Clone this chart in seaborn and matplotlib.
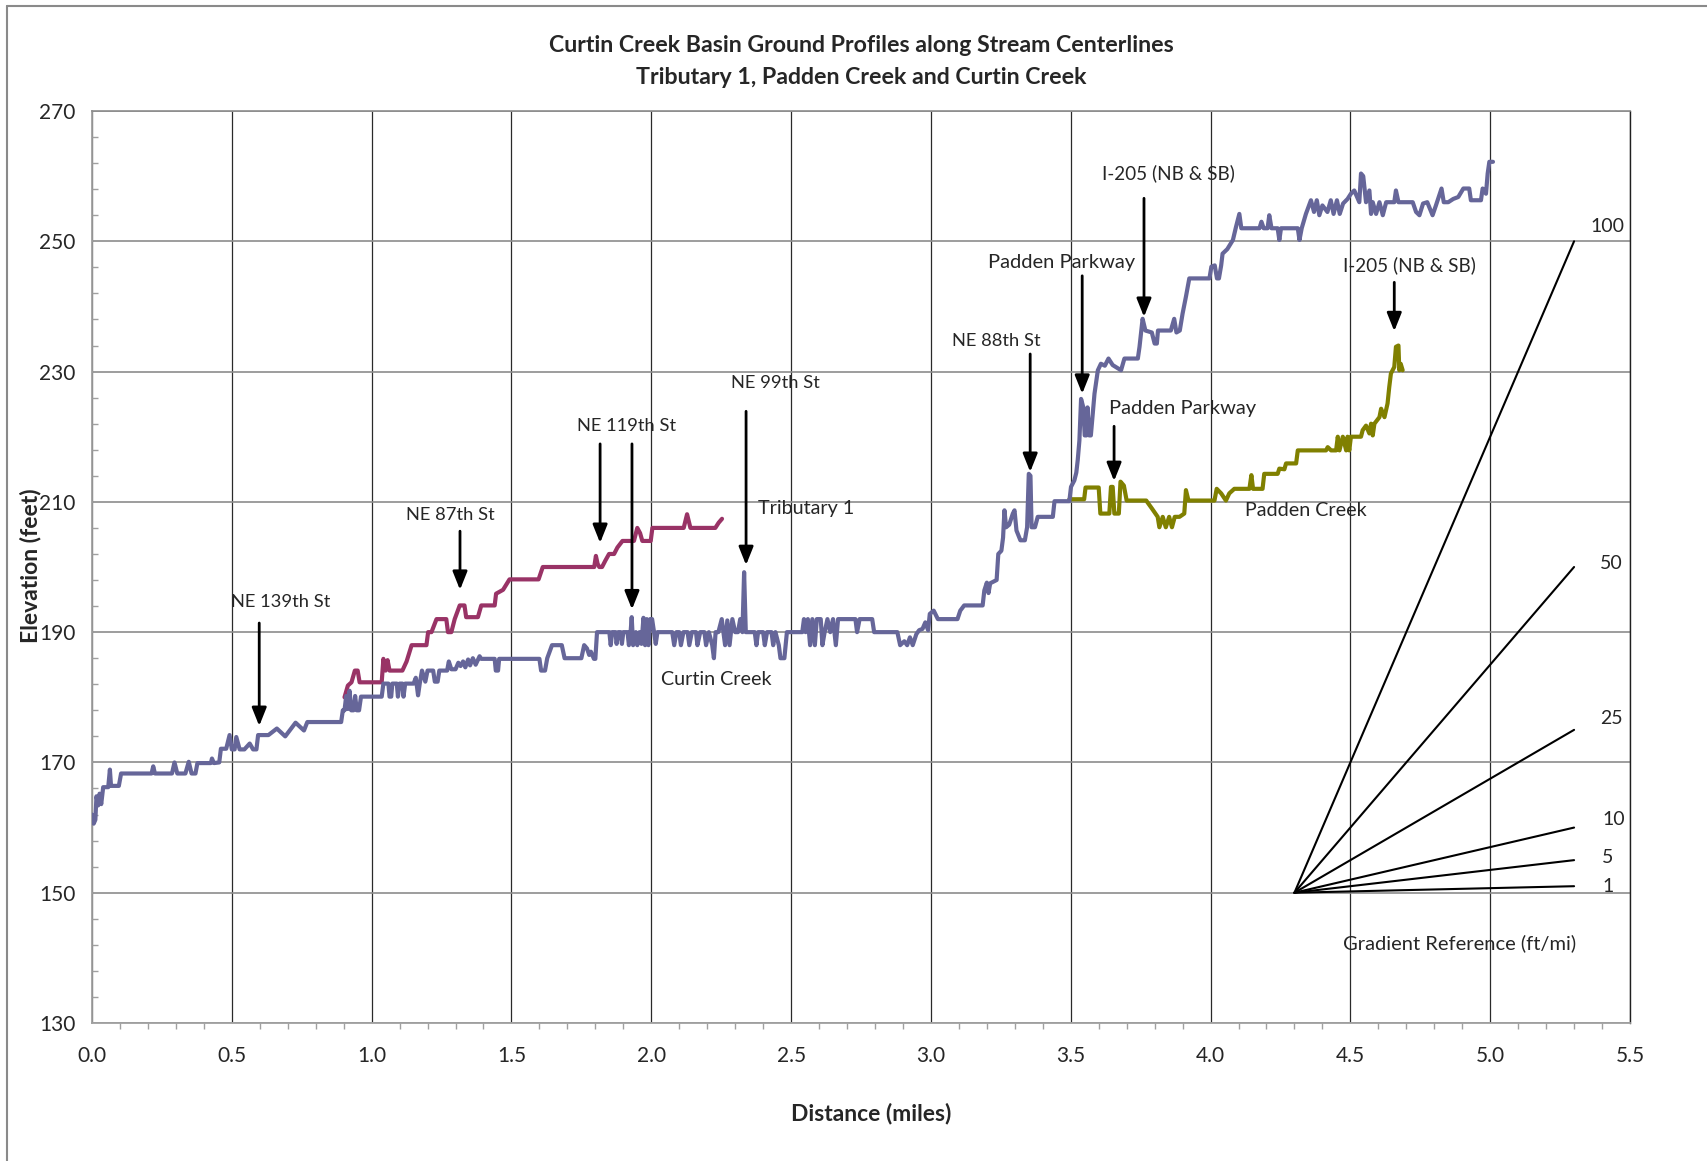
import matplotlib
matplotlib.use("Agg")
import matplotlib.pyplot as plt
from matplotlib.ticker import MultipleLocator, FixedLocator, FormatStrFormatter
from matplotlib.lines import Line2D
import seaborn as sns
import pandas as pd

# ---------------------------------------------------------------- data
curtin_x = [0.000, 0.006, 0.012, 0.016, 0.022, 0.027, 0.033, 0.040, 0.058, 0.064, 0.068, 0.096, 0.104,
            0.213, 0.219, 0.225, 0.286, 0.295, 0.305, 0.334, 0.346, 0.356, 0.370, 0.377, 0.425, 0.429,
            0.436, 0.455, 0.461, 0.480, 0.492, 0.500, 0.510, 0.516, 0.528, 0.545, 0.564, 0.576, 0.588,
            0.594, 0.631, 0.661, 0.691, 0.728, 0.758, 0.770, 0.891,
            0.897, 0.903, 0.909, 0.915, 0.921, 0.927, 0.935, 0.941, 0.947, 0.955, 0.962, 1.036,
            1.042, 1.060, 1.064, 1.070, 1.074, 1.090, 1.094, 1.100, 1.110, 1.114, 1.120, 1.150, 1.158,
            1.166, 1.172, 1.180, 1.192, 1.200, 1.220, 1.226, 1.236, 1.242, 1.254, 1.270, 1.276, 1.285,
            1.300, 1.310, 1.318, 1.327, 1.335, 1.345, 1.352, 1.362, 1.372, 1.386, 1.392, 1.440, 1.444,
            1.452, 1.456, 1.600, 1.606, 1.620, 1.628, 1.645, 1.680, 1.690, 1.750, 1.760, 1.770, 1.778,
            1.784, 1.795, 1.800, 1.806,
            1.812, 1.850, 1.855, 1.860, 1.872, 1.876, 1.882, 1.890, 1.895, 1.900, 1.915, 1.920, 1.926,
            1.930, 1.935, 1.945, 1.950, 1.958, 1.965, 1.972, 1.978, 1.984, 1.990, 1.996, 2.003, 2.010,
            2.016, 2.022, 2.075, 2.082, 2.090, 2.100, 2.106, 2.115, 2.130, 2.136, 2.145, 2.160, 2.165,
            2.175, 2.190, 2.196, 2.206, 2.218, 2.224, 2.230, 2.240, 2.252, 2.258, 2.264, 2.272, 2.280,
            2.290, 2.300, 2.310, 2.318, 2.326, 2.332, 2.338, 2.370, 2.376, 2.382, 2.400, 2.406, 2.414,
            2.430, 2.436, 2.444, 2.456, 2.462, 2.476, 2.485, 2.540, 2.546, 2.552, 2.560, 2.568, 2.576,
            2.585, 2.592, 2.606, 2.612, 2.620, 2.630, 2.640, 2.650, 2.660, 2.668, 2.730, 2.736, 2.745,
            2.790, 2.797, 2.880, 2.890, 2.905, 2.915, 2.925, 2.935, 2.948, 2.958, 2.970, 2.980, 2.990,
            2.996, 3.010, 3.025, 3.054, 3.095, 3.105, 3.119, 3.185, 3.191,
            3.200, 3.206, 3.212, 3.235, 3.241, 3.252, 3.258, 3.263, 3.269, 3.280, 3.293, 3.299, 3.306,
            3.320, 3.336, 3.344, 3.350, 3.356, 3.360, 3.372, 3.382, 3.436, 3.442, 3.495, 3.501, 3.513,
            3.520, 3.525, 3.531, 3.537, 3.545, 3.550, 3.556, 3.560, 3.566, 3.572, 3.585, 3.597, 3.608,
            3.622, 3.635, 3.650, 3.680, 3.692, 3.740, 3.746, 3.757, 3.767, 3.790, 3.800, 3.808, 3.812,
            3.858, 3.870, 3.878, 3.890, 3.900, 3.912, 3.924, 3.996, 4.003, 4.015, 4.023, 4.030, 4.038,
            4.043, 4.060, 4.080, 4.091, 4.103, 4.110, 4.175, 4.182, 4.190, 4.204, 4.210, 4.218, 4.240,
            4.246, 4.252, 4.312, 4.318, 4.326, 4.341, 4.359, 4.370, 4.380, 4.389, 4.400, 4.418, 4.430,
            4.440, 4.452, 4.462, 4.474, 4.490, 4.502, 4.514, 4.532, 4.538, 4.546, 4.556, 4.568, 4.574,
            4.580, 4.592, 4.604, 4.616, 4.628, 4.657, 4.663, 4.672, 4.723, 4.735, 4.747, 4.760, 4.775,
            4.794, 4.806, 4.826, 4.834, 4.850, 4.868, 4.886, 4.904, 4.925, 4.931, 4.967, 4.973, 4.985,
            4.991, 4.997, 5.010]
curtin_y = [162.0, 160.6, 161.2, 164.8, 163.4, 165.2, 163.6, 166.2, 166.2, 168.9, 166.4, 166.4, 168.3,
            168.3, 169.4, 168.3, 168.3, 170.0, 168.3, 168.3, 170.1, 168.3, 168.3, 169.9, 169.9, 170.6,
            169.9, 170.0, 172.1, 172.1, 174.2, 172.0, 172.0, 173.9, 172.0, 172.0, 172.9, 172.0, 172.0,
            174.2, 174.2, 175.2, 174.0, 176.1, 174.9, 176.2, 176.2,
            178.0, 178.0, 180.2, 178.2, 181.0, 178.0, 178.0, 180.2, 178.0, 178.0, 180.1, 180.1,
            182.1, 182.1, 180.1, 180.1, 182.1, 182.1, 180.1, 182.1, 182.1, 180.1, 182.1, 182.1, 183.0,
            180.3, 182.1, 184.1, 182.4, 184.1, 184.1, 182.4, 182.4, 184.1, 184.1, 184.1, 185.5, 184.3,
            184.3, 185.3, 184.8, 185.5, 184.6, 185.8, 184.9, 186.0, 185.0, 186.3, 185.9, 185.9, 184.1,
            184.1, 185.9, 185.9, 184.1, 184.1, 186.0, 188.0, 188.0, 186.0, 186.0, 188.0, 187.5, 186.5,
            187.0, 185.9, 185.9, 190.0,
            190.0, 190.0, 188.0, 190.0, 190.0, 188.2, 190.0, 190.0, 188.2, 190.0, 190.0, 188.0, 190.0,
            192.3, 188.0, 190.0, 188.0, 190.0, 188.2, 192.2, 188.0, 192.0, 188.0, 192.0, 192.0, 190.0,
            188.2, 190.0, 190.0, 188.0, 190.0, 190.0, 188.0, 190.0, 190.0, 188.0, 190.0, 190.0, 188.0,
            190.0, 190.0, 188.0, 190.0, 188.0, 186.0, 190.0, 190.0, 192.0, 190.0, 188.0, 191.8, 188.0,
            192.0, 190.0, 190.0, 192.0, 190.0, 199.2, 190.0, 190.0, 188.0, 190.0, 190.0, 188.0, 190.0,
            190.0, 188.0, 190.0, 188.0, 186.0, 186.0, 190.0, 190.0, 192.0, 190.0, 192.0, 188.0, 192.0,
            188.0, 192.0, 192.0, 188.0, 190.0, 192.0, 190.0, 192.0, 188.0, 192.0, 192.0, 190.0, 192.0,
            192.0, 190.0, 190.0, 188.0, 188.6, 188.0, 189.2, 188.0, 189.7, 190.3, 190.5, 191.5, 190.3,
            192.8, 193.3, 192.0, 192.0, 192.0, 193.3, 194.1, 194.1, 196.4,
            197.6, 196.0, 197.5, 198.0, 202.0, 202.5, 204.5, 208.7, 206.1, 206.5, 208.2, 208.7, 205.6,
            204.1, 204.1, 206.1, 214.3, 214.0, 206.1, 206.1, 207.7, 207.7, 210.1, 210.1, 212.3, 213.3,
            214.5, 216.4, 219.4, 225.8, 224.5, 220.2, 220.2, 224.5, 220.2, 220.2, 226.6, 230.2, 231.2,
            230.9, 232.0, 231.0, 230.2, 232.0, 232.0, 233.8, 238.1, 236.3, 236.0, 234.3, 234.3, 236.3,
            236.3, 238.1, 236.0, 236.3, 238.9, 241.5, 244.3, 244.3, 246.1, 246.3, 244.3, 244.3, 246.3,
            248.1, 248.8, 250.2, 252.2, 254.2, 252.0, 252.0, 253.0, 252.0, 252.0, 254.0, 252.0, 252.0,
            250.2, 252.0, 252.0, 250.2, 252.0, 254.2, 256.3, 254.5, 256.3, 254.0, 255.5, 254.5, 256.3,
            254.2, 256.3, 254.2, 255.8, 256.5, 257.3, 257.8, 256.0, 260.4, 260.0, 256.0, 257.8, 254.2,
            256.0, 254.2, 256.0, 254.0, 256.0, 256.0, 257.8, 256.0, 256.0, 254.5, 254.0, 255.8, 256.0,
            254.0, 255.5, 258.1, 256.0, 256.0, 256.5, 256.8, 258.1, 258.1, 256.3, 256.3, 258.1, 257.3,
            260.4, 262.2, 262.2]

trib_x = [0.903, 0.915, 0.928, 0.940, 0.950, 0.957, 1.036, 1.042, 1.050, 1.057, 1.064, 1.110, 1.125,
          1.143, 1.196, 1.202, 1.214, 1.232, 1.267, 1.273, 1.285, 1.297, 1.315, 1.332, 1.338, 1.380,
          1.392, 1.440, 1.445, 1.470, 1.493, 1.597, 1.612, 1.796, 1.802, 1.808, 1.814, 1.824, 1.836,
          1.849, 1.867, 1.879, 1.897, 1.938, 1.944, 1.950, 1.960, 1.968, 1.998, 2.004, 2.116, 2.128,
          2.140, 2.229, 2.241, 2.253]
trib_y = [180.0, 181.8, 182.3, 184.1, 184.1, 182.3, 182.3, 185.9, 184.1, 185.7, 184.1, 184.1, 185.5,
          188.0, 188.0, 190.0, 190.0, 192.0, 192.0, 190.0, 190.0, 192.0, 194.1, 194.1, 192.3, 192.3,
          194.1, 194.1, 195.9, 196.5, 198.1, 198.1, 200.0, 200.0, 201.7, 200.5, 200.0, 200.0, 201.0,
          202.0, 202.0, 203.0, 204.0, 204.0, 205.0, 206.0, 205.2, 204.0, 204.0, 206.0, 206.0, 208.1,
          206.0, 206.0, 206.8, 207.4]

padden_x = [3.495, 3.548, 3.553, 3.600, 3.606, 3.638, 3.644, 3.650, 3.656, 3.672, 3.678, 3.690, 3.700,
            3.770, 3.790, 3.811, 3.817, 3.829, 3.840, 3.852, 3.862, 3.872, 3.889, 3.906, 3.912, 3.921,
            4.014, 4.022, 4.038, 4.055, 4.067, 4.085, 4.139, 4.146, 4.152, 4.186, 4.192, 4.240, 4.246,
            4.264, 4.270, 4.306, 4.312, 4.413, 4.419, 4.431, 4.449, 4.455, 4.461, 4.473, 4.485, 4.490,
            4.496, 4.502, 4.538, 4.544, 4.556, 4.568, 4.574, 4.580, 4.586, 4.604, 4.610, 4.622, 4.633,
            4.639, 4.645, 4.657, 4.663, 4.672, 4.675, 4.680, 4.687]
padden_y = [210.4, 210.4, 212.2, 212.2, 208.2, 208.2, 212.3, 212.3, 208.2, 208.2, 213.1, 212.5, 210.2,
            210.2, 209.0, 207.7, 206.1, 207.7, 206.1, 207.7, 206.1, 207.7, 207.7, 208.2, 211.8, 210.2,
            210.2, 212.0, 211.3, 210.2, 211.3, 212.0, 212.0, 214.1, 212.0, 212.0, 214.3, 214.3, 215.1,
            215.0, 215.9, 215.9, 217.9, 217.9, 218.4, 217.9, 217.9, 220.0, 217.9, 220.0, 217.9, 220.0,
            217.9, 220.0, 220.0, 221.0, 221.7, 220.5, 222.0, 220.2, 222.0, 223.0, 224.3, 223.0, 225.1,
            227.6, 229.7, 230.7, 233.8, 234.0, 230.2, 231.2, 230.2]

gradient_slopes = [100, 50, 25, 10, 5, 1]          # ft per mile
gradient_start = (4.3, 150.0)
gradient_end_x = 5.3

# landmark labels: (text, x, y)
landmark_labels = [
    ("NE 139th St", 0.676, 194.6),
    ("NE 87th St", 1.281, 208.0),
    ("NE 119th St", 1.910, 221.6),
    ("NE 99th St", 2.443, 228.2),
    ("NE 88th St", 3.233, 234.7),
    ("Padden Parkway", 3.469, 246.7),
    ("I-205 (NB & SB)", 3.848, 260.5),
    ("Padden Parkway", 3.901, 224.3),
    ("I-205 (NB & SB)", 4.710, 246.4),
]
# landmark arrows: (x, tail elevation, tip elevation)
landmark_arrows = [
    (0.598, 191.4, 175.6),
    (1.316, 205.5, 196.5),
    (1.817, 218.9, 203.7),
    (1.931, 218.9, 193.5),
    (2.339, 223.9, 200.3),
    (3.355, 232.7, 214.6),
    (3.541, 244.7, 226.6),
    (3.762, 256.6, 238.4),
    (3.655, 221.6, 213.2),
    (4.657, 243.7, 236.2),
]
stream_labels = [
    ("Tributary 1", 2.553, 209.0),
    ("Curtin Creek", 2.232, 182.8),
    ("Padden Creek", 4.339, 208.7),
]

# ---------------------------------------------------------------- style
sns.set_style("white")
plt.rcParams["font.family"] = ["Lato", "DejaVu Sans"]

label_size = {"NE": 13.2, "Padden Parkway": 14.5, "I-205 (NB & SB)": 13.6}

def text_size(txt):
    if txt.startswith("NE"):
        return label_size["NE"]
    return label_size.get(txt, 14.2)

W, H = 1707, 1161
fig = plt.figure(figsize=(W / 100, H / 100), dpi=100)
ax = fig.add_axes([92 / W, 1 - 1023 / H, (1630 - 92) / W, (1023 - 111) / H])

# ---------------------------------------------------------------- profiles
frames = []
for name, xs, ys in [("Tributary 1", trib_x, trib_y),
                     ("Padden Creek", padden_x, padden_y),
                     ("Curtin Creek", curtin_x, curtin_y)]:
    frames.append(pd.DataFrame({"stream": name, "distance": xs, "elevation": ys}))
profiles = pd.concat(frames, ignore_index=True)

palette = {"Curtin Creek": "#666699", "Tributary 1": "#993366", "Padden Creek": "#808000"}
sns.lineplot(data=profiles, x="distance", y="elevation", hue="stream",
             hue_order=["Tributary 1", "Padden Creek", "Curtin Creek"],
             palette=palette, sort=False, estimator=None, linewidth=3.0,
             legend=False, ax=ax, zorder=3)

# ---------------------------------------------------------------- gradient reference fan
grad_rows = []
for s in gradient_slopes:
    grad_rows.append({"slope": s, "distance": gradient_start[0], "elevation": gradient_start[1]})
    grad_rows.append({"slope": s, "distance": gradient_end_x,
                      "elevation": gradient_start[1] + s * (gradient_end_x - gradient_start[0])})
grad = pd.DataFrame(grad_rows)
sns.lineplot(data=grad, x="distance", y="elevation", units="slope", estimator=None,
             color="black", linewidth=1.5, sort=False, ax=ax, zorder=3)

grad_label_offset = {100: (0.118, 2.3), 50: (0.134, 0.6), 25: (0.134, 1.8),
                     10: (0.143, 1.3), 5: (0.12, 0.4), 1: (0.12, 0.0)}
for s in gradient_slopes:
    dx, dy = grad_label_offset[s]
    yend = gradient_start[1] + s * (gradient_end_x - gradient_start[0])
    ax.text(gradient_end_x + dx, yend + dy, str(s), ha="center", va="center", fontsize=14)
ax.text(4.889, 142.3, "Gradient Reference (ft/mi)", ha="center", va="center", fontsize=14.5)

# ---------------------------------------------------------------- landmarks
for txt, x, y in landmark_labels + stream_labels:
    ax.text(x, y, txt, ha="center", va="center", fontsize=text_size(txt), zorder=5)
for x, ytail, ytip in landmark_arrows:
    ax.annotate("", xy=(x, ytip), xytext=(x, ytail),
                arrowprops=dict(arrowstyle="-|>,head_length=0.55,head_width=0.22",
                                color="black", lw=2.0, mutation_scale=20,
                                shrinkA=0, shrinkB=0), zorder=5)

# ---------------------------------------------------------------- axes
ax.set_xlim(0, 5.5)
ax.set_ylim(130, 270)
ax.xaxis.set_major_locator(MultipleLocator(0.5))
ax.xaxis.set_minor_locator(MultipleLocator(0.1))
ax.xaxis.set_major_formatter(FormatStrFormatter("%.1f"))
ax.yaxis.set_major_locator(FixedLocator(list(range(130, 271, 20))))
ax.yaxis.set_minor_locator(FixedLocator([v for v in range(130, 271, 4) if (v - 130) % 20]))

ax.set_axisbelow(True)
ax.grid(axis="y", which="major", color="#8c8c8c", linewidth=1.2)
ax.grid(axis="x", which="major", color="#2a2a2a", linewidth=0.9)

for side in ["left", "bottom"]:
    ax.spines[side].set_color("#a0a0a0")
    ax.spines[side].set_linewidth(1.3)
ax.spines["top"].set_color("#8c8c8c")
ax.spines["top"].set_linewidth(1.2)
ax.spines["right"].set_color("#202020")
ax.spines["right"].set_linewidth(1.0)

ax.tick_params(axis="y", which="major", direction="out", length=5, width=1,
               color="#a0a0a0", labelsize=15, pad=7)
ax.tick_params(axis="y", which="minor", direction="in", length=4, width=1,
               color="#a0a0a0", left=True)
ax.tick_params(axis="x", which="major", direction="inout", length=9, width=1,
               color="#a0a0a0", labelsize=15, pad=12)
ax.tick_params(axis="x", which="minor", direction="out", length=4, width=1,
               color="#a0a0a0", bottom=True)

ax.set_xlabel("Distance (miles)", fontsize=16.5, fontweight="bold")
ax.set_ylabel("Elevation (feet)", fontsize=16.5, fontweight="bold")
ax.xaxis.label.set_va("center")
ax.yaxis.label.set_va("center")
ax.xaxis.set_label_coords((871 - 92) / 1538, (1023 - 1114) / 912)
ax.yaxis.set_label_coords((31 - 92) / 1538, (1023 - 566) / 912)

# ---------------------------------------------------------------- titles
fig.text(861 / W, 1 - 45 / H, "Curtin Creek Basin Ground Profiles along Stream Centerlines",
         ha="center", va="center", fontsize=16.7, fontweight="bold")
fig.text(861 / W, 1 - 77 / H, "Tributary 1, Padden Creek and Curtin Creek",
         ha="center", va="center", fontsize=16.7, fontweight="bold")

# chart-area frame
fig.add_artist(Line2D([7 / W, 1.0], [1 - 6 / H, 1 - 6 / H], color="#8a8a8a", lw=1.5))
fig.add_artist(Line2D([7 / W, 7 / W], [0.0, 1 - 6 / H], color="#8a8a8a", lw=1.5))

fig.savefig("out.png", dpi=100)
